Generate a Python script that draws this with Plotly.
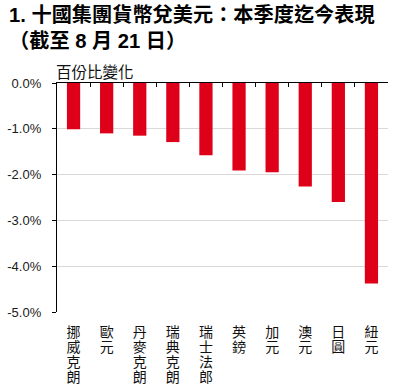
import plotly.graph_objects as go

categories = ["挪威克朗", "歐元", "丹麥克朗", "瑞典克朗", "瑞士法郎", "英鎊", "加元", "澳元", "日圓", "紐元"]
values = [-1.01, -1.10, -1.15, -1.29, -1.58, -1.91, -1.95, -2.26, -2.60, -4.38]
y_ticks = [0, -1, -2, -3, -4, -5]
y_tick_labels = ["0.0%", "-1.0%", "-2.0%", "-3.0%", "-4.0%", "-5.0%"]
title_text = "1. 十國集團貨幣兌美元：本季度迄今表現<br>（截至 8 月 21 日）"
y_title = "百份比變化"

def vlabel(s):
    return "<br>".join('<span style="font-size:14px">%s</span>' % ch for ch in s)

tick_text = [vlabel(c) for c in categories]

fig = go.Figure()
fig.add_trace(go.Bar(x=categories, y=values, marker_color="#DE0019",
                     marker_line_width=0, showlegend=False, hoverinfo="skip"))
fig.add_trace(go.Bar(x=categories, y=values, xaxis="x2", opacity=0,
                     showlegend=False, hoverinfo="skip"))

font_main = "Liberation Sans, Arial, Noto Sans CJK TC, sans-serif"

W, H = 396, 388
L, R, T, B = 57, 8, 83, 76
pw = W - L - R
ph = H - T - B

fig.update_layout(
    width=W, height=H,
    margin=dict(l=L, r=R, t=T, b=B, autoexpand=False),
    paper_bgcolor="white", plot_bgcolor="white",
    bargap=0.6,
    xaxis=dict(type="category", categoryorder="array", categoryarray=categories,
               tickvals=categories, ticktext=tick_text,
               showline=False, ticks="", showgrid=False,
               tickfont=dict(family="Noto Sans CJK TC, sans-serif", size=11.4, color="#111111"),
               ticklabelstandoff=13, tickangle=0),
    xaxis2=dict(type="category", categoryorder="array", categoryarray=categories,
                overlaying="x", side="top", anchor="y",
                showline=True, linecolor="#000000", linewidth=1.3,
                ticks="inside", tickson="boundaries", ticklen=4, tickcolor="#000000",
                tickwidth=1, showticklabels=False, showgrid=False),
    yaxis=dict(range=[-5, 0], tickvals=y_ticks, ticktext=y_tick_labels,
               showline=True, linecolor="#000000", linewidth=1.3,
               ticks="outside", ticklen=4, tickcolor="#000000",
               showgrid=True, gridcolor="#D9D9D9", gridwidth=1,
               zeroline=False, ticklabelstandoff=8,
               tickfont=dict(family=font_main, size=13, color="#1a1a1a")),
    annotations=[
        dict(text="<b>" + title_text + "</b>", xref="paper", yref="paper",
             x=(7 - L) / pw, y=1 + (T - 1) / ph, xanchor="left", yanchor="top",
             align="left", showarrow=False,
             font=dict(family=font_main, size=20.2, color="#000000")),
        dict(text=y_title, xref="paper", yref="paper", x=0, y=1,
             xanchor="left", yanchor="bottom", showarrow=False, yshift=-1,
             xshift=-3,
             font=dict(family="Noto Sans CJK TC, sans-serif", size=15.5, color="#111111")),
    ],
)

fig.write_html("out.html", config={"displayModeBar": False},
               post_script="document.body.style.margin='0';")
